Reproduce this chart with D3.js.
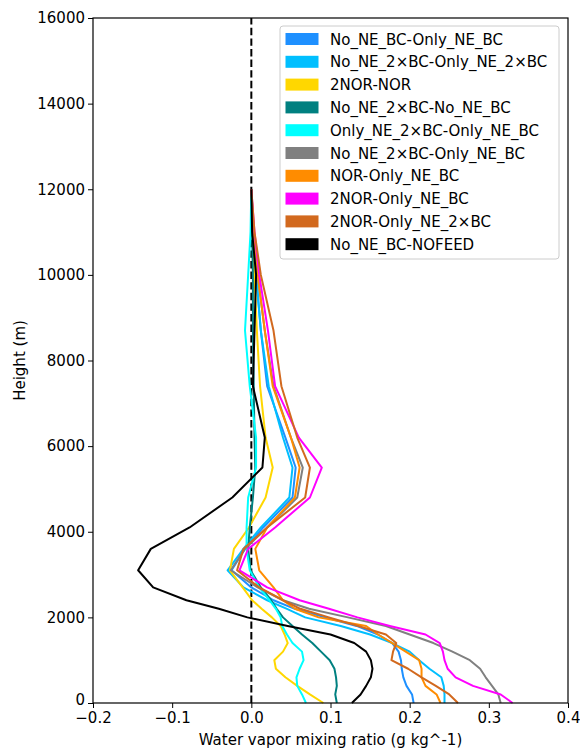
<!DOCTYPE html>
<html>
<head>
<meta charset="utf-8">
<script src="https://cdn.jsdelivr.net/npm/d3@7"></script>
<style>
  body { margin: 0; background: #fff; }
  text { font-family: "DejaVu Sans", sans-serif; }
</style>
</head>
<body>
<svg id="chart"></svg>
<script>
// heights of the model levels (m)
const heights = [0, 200, 400, 600, 800, 1000, 1200, 1400, 1600, 1800, 2000, 2200, 2400, 2700, 3100, 3600, 4100, 4800, 5500, 6200, 7400, 8700, 10000, 11000, 12000]

const labels = ["No_NE_BC-Only_NE_BC", "No_NE_2×BC-Only_NE_2×BC", "2NOR-NOR", "No_NE_2×BC-No_NE_BC",
  "Only_NE_2×BC-Only_NE_BC", "No_NE_2×BC-Only_NE_BC", "NOR-Only_NE_BC", "2NOR-Only_NE_BC",
  "2NOR-Only_NE_2×BC", "No_NE_BC-NOFEED"]
const colors = ["#1E90FF", "#00BFFF", "#FFD700", "#008080", "#00FFFF", "#808080", "#FF8C00", "#FF00FF", "#D2691E", "#000000"]

// water vapor mixing ratio differences (g/kg), one per label
const noNeBc_onlyNeBc = [0.205, 0.203, 0.196, 0.192, 0.190, 0.189, 0.186, 0.178, 0.160, 0.133, 0.093, 0.055, 0.028, 0.000, -0.025, -0.008, 0.015, 0.052, 0.056, 0.043, 0.020, 0.012, 0.006, 0.002, 0]
const noNe2Bc_onlyNe2Bc = [0.244, 0.244, 0.243, 0.240, 0.225, 0.212, 0.200, 0.178, 0.150, 0.113, 0.068, 0.045, 0.020, -0.010, -0.030, -0.010, 0.012, 0.048, 0.052, 0.040, 0.022, 0.012, 0.006, 0.002, 0]
const twoNor_nor = [0.091, 0.074, 0.058, 0.043, 0.031, 0.029, 0.040, 0.046, 0.042, 0.037, 0.026, 0.013, 0.001, -0.011, -0.027, -0.022, -0.003, 0.018, 0.027, 0.018, 0.011, 0.007, 0.004, 0.002, 0]
const noNe2Bc_noNeBc = [0.108, 0.106, 0.108, 0.107, 0.105, 0.099, 0.088, 0.077, 0.064, 0.052, 0.040, 0.032, 0.025, 0.012, -0.001, -0.004, -0.002, 0.002, 0.005, 0.004, 0.003, 0.002, 0.002, 0.001, 0]
const onlyNe2Bc_onlyNeBc = [0.069, 0.064, 0.058, 0.057, 0.061, 0.066, 0.064, 0.052, 0.045, 0.039, 0.037, 0.031, 0.023, 0.010, -0.002, -0.006, -0.006, -0.004, 0.006, 0.006, -0.002, -0.008, -0.004, -0.001, 0]
const noNe2Bc_onlyNeBc = [0.315, 0.312, 0.304, 0.296, 0.289, 0.276, 0.254, 0.230, 0.200, 0.170, 0.122, 0.073, 0.040, 0.008, -0.026, -0.008, 0.020, 0.058, 0.065, 0.050, 0.028, 0.017, 0.008, 0.003, 0]
const nor_onlyNeBc = [0.239, 0.234, 0.220, 0.215, 0.215, 0.212, 0.195, 0.178, 0.160, 0.145, 0.085, 0.055, 0.040, 0.028, 0.010, 0.005, 0.020, 0.055, 0.061, 0.050, 0.027, 0.017, 0.008, 0.003, 0]
const twoNor_onlyNeBc = [0.330, 0.315, 0.280, 0.258, 0.248, 0.244, 0.242, 0.238, 0.220, 0.175, 0.134, 0.098, 0.061, 0.020, -0.015, -0.004, 0.030, 0.074, 0.089, 0.060, 0.030, 0.021, 0.010, 0.004, 0]
const twoNor_onlyNe2Bc = [0.261, 0.250, 0.233, 0.215, 0.198, 0.177, 0.179, 0.183, 0.170, 0.135, 0.098, 0.062, 0.040, 0.010, -0.018, -0.010, 0.020, 0.068, 0.074, 0.058, 0.038, 0.028, 0.012, 0.004, 0]
const noNeBc_nofeed = [0.127, 0.138, 0.145, 0.151, 0.153, 0.151, 0.145, 0.130, 0.100, 0.046, -0.005, -0.041, -0.082, -0.124, -0.143, -0.127, -0.078, -0.024, 0.014, 0.017, 0.002, 0.004, 0.006, 0.001, 0]

const seriesValues = [noNeBc_onlyNeBc, noNe2Bc_onlyNe2Bc, twoNor_nor, noNe2Bc_noNeBc, onlyNe2Bc_onlyNeBc,
  noNe2Bc_onlyNeBc, nor_onlyNeBc, twoNor_onlyNeBc, twoNor_onlyNe2Bc, noNeBc_nofeed]

const xTicks = [-0.2, -0.1, 0.0, 0.1, 0.2, 0.3, 0.4]
const yTicks = [0, 2000, 4000, 6000, 8000, 10000, 12000, 14000, 16000]

const width = 580, height = 749
const margin = { top: 18, right: 12, bottom: 46, left: 93 }

const svg = d3.select('#chart')
  .attr('width', width)
  .attr('height', height)

var x = d3.scaleLinear().domain([-0.2, 0.4]).range([margin.left, width - margin.right])
var y = d3.scaleLinear().domain([0, 16000]).range([height - margin.bottom, margin.top])

// zero line
svg.append('line')
  .attr('x1', x(0)).attr('x2', x(0))
  .attr('y1', y(0)).attr('y2', y(16000))
  .attr('stroke', 'black')
  .attr('stroke-width', 2)
  .attr('stroke-dasharray', '7.4,3.2')

var line = d3.line()
  .x(d => x(d[0]))
  .y(d => y(d[1]))

seriesValues.forEach(function (vals, i) {
  svg.append('path')
    .datum(vals.map((v, j) => [v, heights[j]]))
    .attr('d', line)
    .attr('fill', 'none')
    .attr('stroke', colors[i])
    .attr('stroke-width', 2)
    .attr('stroke-linejoin', 'round')
})

// axes
var xAxis = svg.append('g')
  .attr('transform', 'translate(0,' + y(0) + ')')
  .call(d3.axisBottom(x).tickValues(xTicks).tickFormat(d3.format('.1f')).tickSize(5).tickPadding(4).tickSizeOuter(0))
var yAxis = svg.append('g')
  .attr('transform', 'translate(' + x(-0.2) + ',0)')
  .call(d3.axisLeft(y).tickValues(yTicks).tickFormat(d3.format('d')).tickSize(5).tickSizeOuter(0))

svg.selectAll('.tick text').attr('font-size', 15).attr('fill', '#000')
  .attr('font-family', '"DejaVu Sans", sans-serif')
svg.selectAll('.domain').remove()

// the "0" label sits right above the first x label, nudge it up a little
yAxis.selectAll('.tick text').filter(d => d === 0).attr('dy', '0.1em')

// frame
svg.append('rect')
  .attr('x', x(-0.2)).attr('y', y(16000))
  .attr('width', x(0.4) - x(-0.2)).attr('height', y(0) - y(16000))
  .attr('fill', 'none').attr('stroke', 'black').attr('stroke-width', 1.2)

svg.append('text')
  .attr('x', (x(-0.2) + x(0.4)) / 2)
  .attr('y', 745)
  .attr('text-anchor', 'middle')
  .attr('font-size', 15)
  .text('Water vapor mixing ratio (g kg^-1)')

svg.append('text')
  .attr('transform', 'translate(25,' + ((y(0) + y(16000)) / 2) + ') rotate(-90)')
  .attr('text-anchor', 'middle')
  .attr('font-size', 15)
  .text('Height (m)')

// legend
var legend = svg.append('g').attr('transform', 'translate(280,26)')
legend.append('rect')
  .attr('width', 279).attr('height', 233)
  .attr('rx', 3)
  .attr('fill', 'white').attr('fill-opacity', 0.8)
  .attr('stroke', '#cccccc')

var rows = legend.selectAll('g.row')
  .data(labels)
  .enter().append('g')
  .attr('class', 'row')
  .attr('transform', (d, i) => 'translate(0,' + (13 + i * 22.8) + ')')

rows.append('rect')
  .attr('x', 5.5).attr('y', -6)
  .attr('width', 33).attr('height', 12)
  .attr('fill', (d, i) => colors[i])

rows.append('text')
  .attr('x', 50).attr('y', 5.5)
  .attr('font-size', 15)
  .text(d => d)
</script>
</body>
</html>
